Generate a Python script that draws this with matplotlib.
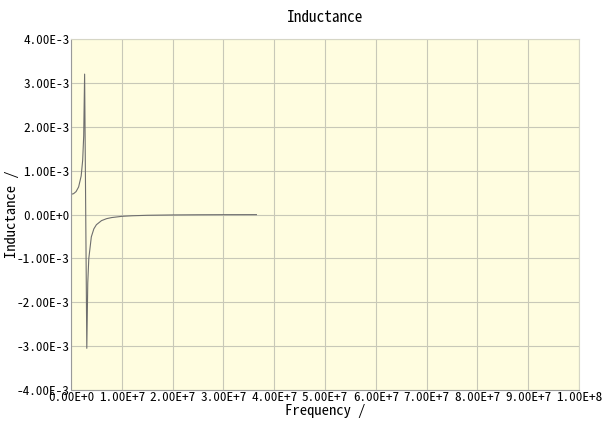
import numpy as np
import matplotlib
matplotlib.use("Agg")
import matplotlib.pyplot as plt
from matplotlib.ticker import FuncFormatter

# data (frequency in Hz, inductance in H)
freq = [0.0, 0.5e6, 1.0e6, 1.5e6, 2.0e6, 2.3e6, 2.5e6, 2.68e6,
        3.11e6, 3.3e6, 3.5e6, 4.0e6, 4.5e6, 5.0e6, 6.0e6, 7.0e6,
        8.0e6, 1.0e7, 1.2e7, 1.5e7, 2.0e7, 2.5e7, 3.0e7, 3.65e7]
inductance = [0.460e-3, 0.474e-3, 0.522e-3, 0.628e-3, 0.877e-3, 1.240e-3,
              1.790e-3, 3.200e-3, -3.050e-3, -1.560e-3, -1.006e-3,
              -0.510e-3, -0.327e-3, -0.233e-3, -0.140e-3, -0.095e-3,
              -0.070e-3, -0.042e-3, -0.029e-3, -0.018e-3, -0.010e-3,
              -0.006e-3, -0.004e-3, -0.003e-3]

x_ticks = np.arange(0, 1.0e8 + 1, 1.0e7)
y_ticks = np.arange(-4e-3, 4e-3 + 1e-9, 1e-3)

plt.rcParams['font.family'] = ['Noto Sans Mono CJK JP', 'Noto Sans CJK JP', 'DejaVu Sans']

fig = plt.figure(figsize=(6.03, 4.21), dpi=100)
ax = fig.add_axes([71 / 603, 1 - 390 / 421, 508 / 603, 351 / 421])
ax.set_facecolor('#fffde0')

ax.plot(freq, inductance, color='#6e6e6e', linewidth=0.8)

ax.set_xlim(0, 1.0e8)
ax.set_ylim(-4e-3, 4e-3)
ax.set_xticks(x_ticks)
ax.set_yticks(y_ticks)


def sci(v, pos):
    if abs(v) < 1e-12:
        return "0.00E+0"
    e = int(np.floor(np.log10(abs(v)) + 1e-9))
    m = v / 10 ** e
    return f"{m:.2f}E{'+' if e >= 0 else '-'}{abs(e)}"


ax.xaxis.set_major_formatter(FuncFormatter(sci))
ax.yaxis.set_major_formatter(FuncFormatter(sci))
ax.tick_params(length=0, labelsize=9.5, pad=1, colors='black')
ax.grid(True, color='#c8c8b8', linewidth=0.8)
ax.set_axisbelow(True)

for s in ['top', 'right']:
    ax.spines[s].set_color('#d6d6c6')
for s in ['left', 'bottom']:
    ax.spines[s].set_color('#9a9a9a')

ax.set_title("Inductance", fontsize=11, pad=12)
ax.set_xlabel("Frequency /", fontsize=10.5, labelpad=0)
ax.set_ylabel("Inductance /", fontsize=10.5)
ax.yaxis.set_label_coords(-0.102, 0.5)

fig.savefig("out.png", dpi=100, facecolor='white')
